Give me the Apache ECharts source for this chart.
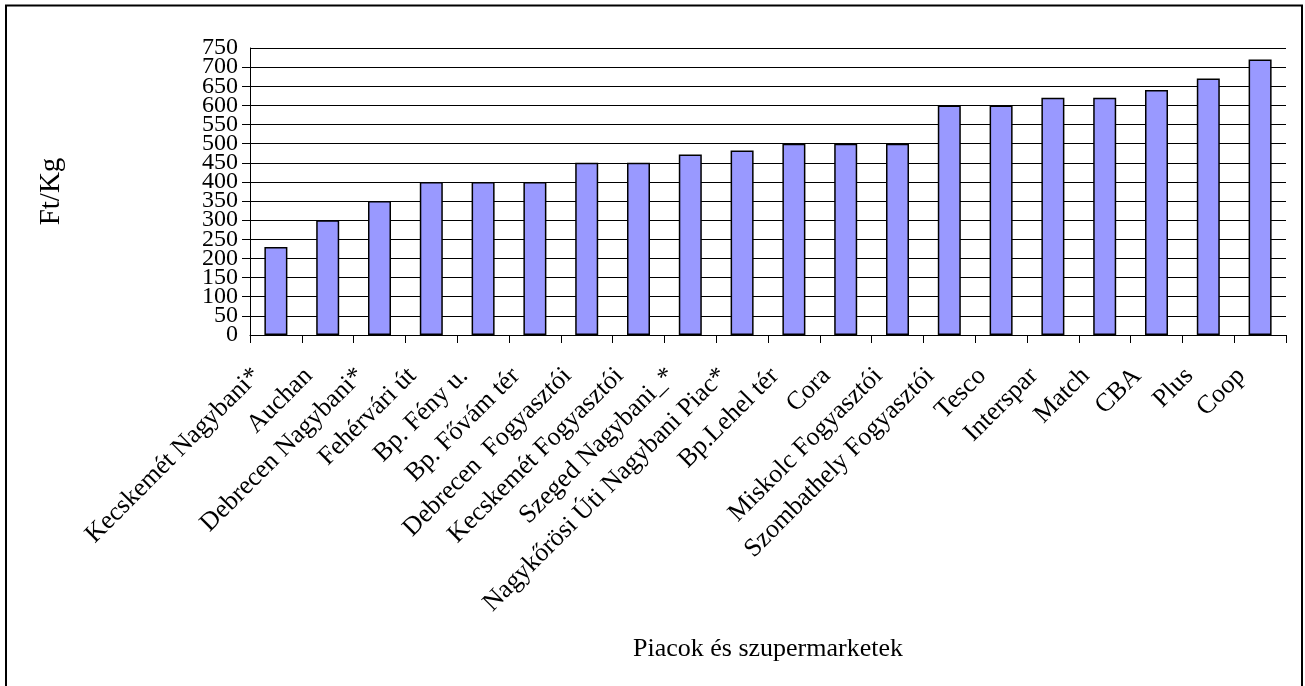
<!DOCTYPE html>
<html>
<head>
<meta charset="utf-8">
<script src="https://cdn.jsdelivr.net/npm/echarts@6/dist/echarts.min.js"></script>
<style>html,body{margin:0;padding:0;background:#fff}#c{width:1305px;height:686px}</style>
</head>
<body>
<div id="c"></div>
<script>
const categories = ['Kecskemét Nagybani*','Auchan','Debrecen Nagybani*','Fehérvári út','Bp. Fény u.','Bp. Fővám tér','Debrecen  Fogyasztói','Kecskemét Fogyasztói','Szeged Nagybani_*','Nagykőrösi Úti Nagybani Piac*','Bp.Lehel tér','Cora','Miskolc Fogyasztói','Szombathely Fogyasztói','Tesco','Interspar','Match','CBA','Plus','Coop'];
const prices = [230,300,350,400,400,400,450,450,472,482,500,500,500,600,600,620,620,640,670,720];
const yMin = 0, yMax = 750, yStep = 50;
const xTitle = 'Piacok és szupermarketek';
const yTitle = 'Ft/Kg';

const font = 'Liberation Serif, Times New Roman, serif';
const richT = {t: {fontFamily: font, fontSize: 24, color: '#000', lineHeight: 12, height: 12}};
const chart = echarts.init(document.getElementById('c'), null, {renderer: 'canvas'});
chart.setOption({
  animation: false,
  backgroundColor: '#fff',
  graphic: [{
    type: 'rect', shape: {x: 6, y: 5.5, width: 1296, height: 700},
    style: {fill: 'none', stroke: '#000', lineWidth: 2}, silent: true
  }],
  grid: {left: 250, right: 19, top: 48, bottom: 351, containLabel: false, outerBoundsMode: 'none'},
  xAxis: {
    type: 'category', data: categories,
    name: xTitle, nameLocation: 'middle', nameGap: 301, nameMoveOverlap: false,
    nameTextStyle: {fontFamily: font, fontSize: 26, color: '#000'},
    axisLine: {lineStyle: {color: '#000', width: 1}},
    axisTick: {show: true, alignWithLabel: false, length: 8, lineStyle: {color: '#000'}},
    axisLabel: {interval: 0, rotate: 45, margin: 18, fontFamily: font, fontSize: 26, color: '#000', padding: [0, 27, 0, 0], hideOverlap: false},
    splitLine: {show: false}
  },
  yAxis: [{
    type: 'value', min: yMin, max: yMax, interval: yStep, position: 'left',
    name: yTitle, nameLocation: 'middle', nameGap: 184, nameRotate: 90, nameMoveOverlap: false,
    nameTextStyle: {fontFamily: font, fontSize: 29, color: '#000'},
    axisLine: {show: true, lineStyle: {color: '#000', width: 1}},
    axisTick: {show: true, inside: false, length: 8, lineStyle: {color: '#000', width: 1}},
    axisLabel: {
      margin: 12, color: '#000', hideOverlap: false, showMinLabel: false, showMaxLabel: false,
      formatter: '{t|{value}}', rich: richT
    },
    splitLine: {show: true, lineStyle: {color: '#000', width: 1}}
  }, {
    type: 'value', min: yMin, max: yMax, interval: yStep, position: 'left', offset: 0,
    axisLine: {show: false}, axisTick: {show: false}, splitLine: {show: false},
    axisLabel: {
      margin: 12, color: '#000', hideOverlap: false, showMinLabel: true, showMaxLabel: true,
      formatter: function (v) { return (v === yMin || v === yMax) ? '{t|' + v + '}' : ''; },
      rich: richT
    }
  }],
  series: [{
    type: 'bar', data: prices, barWidth: 23, yAxisIndex: 0,
    itemStyle: {color: '#9999FF', borderColor: '#000', borderWidth: 1.5}
  }]
});
</script>
</body>
</html>
